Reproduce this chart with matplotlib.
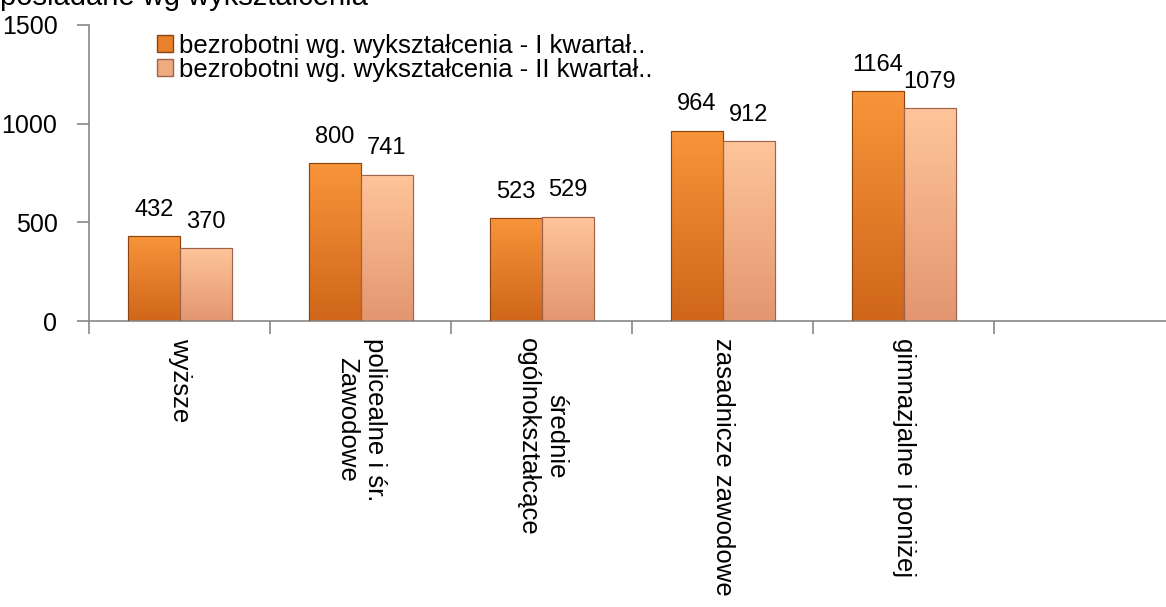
import numpy as np
import matplotlib
matplotlib.use("Agg")
import matplotlib.pyplot as plt
from matplotlib.colors import LinearSegmentedColormap
from matplotlib.patches import Patch

categories = ["wyższe", "policealne i śr.\nZawodowe", "średnie\nogólnokształcące",
              "zasadnicze zawodowe", "gimnazjalne i poniżej", ""]
q1 = [432, 800, 523, 964, 1164]
q2 = [370, 741, 529, 912, 1079]
series_names = ["bezrobotni wg. wykształcenia - I kwartał..",
                "bezrobotni wg. wykształcenia - II kwartał.."]
yticks = [0, 500, 1000, 1500]

plt.rcParams["font.family"] = ["Liberation Sans", "DejaVu Sans"]

fig = plt.figure(figsize=(11.66, 6.07), dpi=100)
ax = fig.add_axes([0.0767, 0.471, 0.9314, 0.488])

x = np.arange(len(categories))
w = 0.287
c1_top, c1_bot, c1_edge = "#F8953A", "#CF661A", "#8E4410"
c2_top, c2_bot, c2_edge = "#FFC59A", "#E39670", "#A0624A"

def grad_bars(xs, vals, ctop, cbot, edge):
    bars = ax.bar(xs, vals, w, color=cbot, edgecolor=edge, linewidth=0.8, zorder=2)
    cmap = LinearSegmentedColormap.from_list("g", [cbot, ctop])
    grad = np.linspace(0, 1, 256).reshape(-1, 1)
    for b in bars:
        x0, y0 = b.get_x(), b.get_y()
        im = ax.imshow(grad, extent=[x0, x0 + b.get_width(), y0, y0 + b.get_height()],
                       origin="lower", cmap=cmap, aspect="auto", zorder=2.5)
        im.set_clip_path(b)
        ax.bar(b.get_x() + b.get_width() / 2, b.get_height(), b.get_width(),
               fill=False, edgecolor=edge, linewidth=0.8, zorder=3)
    return bars

grad_bars(x[:len(q1)] - w / 2, q1, c1_top, c1_bot, c1_edge)
grad_bars(x[:len(q2)] + w / 2, q2, c2_top, c2_bot, c2_edge)

for xs, vals in ((x[:len(q1)] - w / 2, q1), (x[:len(q2)] + w / 2, q2)):
    for xi, v in zip(xs, vals):
        ax.annotate(str(v), (xi, v), xytext=(0, 11), textcoords="offset points",
                    ha="center", va="bottom", fontsize=17)

ax.set_xlim(-0.5, len(categories) - 0.5)
ax.set_ylim(0, 1500)
ax.set_yticks(yticks)
ax.set_yticklabels([str(t) for t in yticks], fontsize=18)
ax.set_xticks(np.arange(len(categories) + 1) - 0.5)
ax.set_xticklabels([])
ax.set_xticks(x, minor=True)
ax.set_xticklabels(categories, minor=True, rotation=270, fontsize=18.5,
                   va="top", ha="center", multialignment="center")
ax.tick_params(axis="x", which="major", length=9, color="#888888", width=1.2, direction="out")
ax.tick_params(axis="x", which="minor", length=0, pad=12)
ax.tick_params(axis="y", length=9, color="#888888", width=1.2, pad=14)

for s in ["top", "right"]:
    ax.spines[s].set_visible(False)
for s in ["left", "bottom"]:
    ax.spines[s].set_color("#888888")
    ax.spines[s].set_linewidth(1.2)

handles = [Patch(facecolor="#E8802C", edgecolor=c1_edge),
           Patch(facecolor="#F0AA80", edgecolor=c2_edge)]
ax.legend(handles, series_names, loc="upper left", bbox_to_anchor=(0.053, 1.005),
          frameon=False, fontsize=18.5, handlelength=0.6, handleheight=0.6,
          handletextpad=0.25, labelspacing=0.0, borderaxespad=0)

fig.text(0.0, 1 - 5 / 607, "posiadane wg wykształcenia", fontsize=21, va="baseline", ha="left")

fig.savefig("out.png", dpi=100)
